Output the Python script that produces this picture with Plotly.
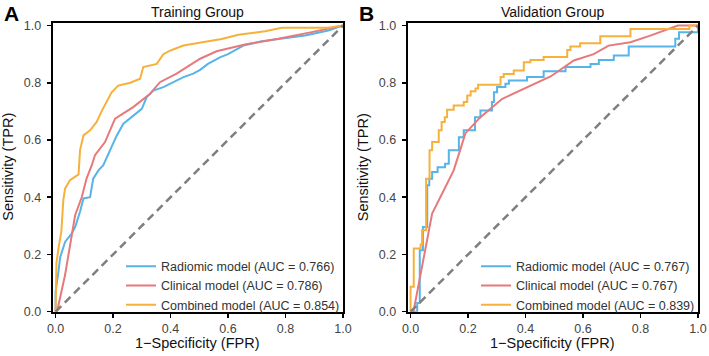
import plotly.graph_objects as go

# ---------------- data ----------------
tick_vals = [0.0, 0.2, 0.4, 0.6, 0.8, 1.0]
tick_text = ["0.0", "0.2", "0.4", "0.6", "0.8", "1.0"]

panel_titles = ["Training Group", "Validation Group"]
panel_letters = ["A", "B"]
model_names = ["Radiomic model", "Clinical model", "Combined model"]
auc_train = [0.766, 0.786, 0.854]
auc_valid = [0.767, 0.767, 0.839]

# Training group ROC curves
train_rad_fpr = [0, 0.0, 0.01, 0.016, 0.033, 0.056, 0.068, 0.085, 0.097, 0.12, 0.131, 0.149, 0.166,
                 0.184, 0.213, 0.236, 0.27, 0.30, 0.317, 0.34, 0.375, 0.41, 0.445, 0.479, 0.503, 0.53,
                 0.572, 0.60, 0.653, 0.717, 0.787, 0.868, 0.949, 1.0]
train_rad_tpr = [0, 0.07, 0.14, 0.19, 0.244, 0.273, 0.296, 0.349, 0.396, 0.40, 0.465, 0.494, 0.512,
                 0.552, 0.616, 0.657, 0.686, 0.709, 0.75, 0.773, 0.785, 0.802, 0.82, 0.832, 0.845, 0.866,
                 0.889, 0.90, 0.93, 0.945, 0.954, 0.965, 0.983, 1.0]

train_cli_fpr = [0, 0.005, 0.033, 0.05, 0.068, 0.091, 0.108, 0.126, 0.137, 0.172, 0.207, 0.27, 0.329,
                 0.363, 0.421, 0.503, 0.56, 0.659, 0.775, 0.891, 1.0]
train_cli_tpr = [0, 0.0, 0.128, 0.233, 0.337, 0.40, 0.466, 0.512, 0.547, 0.593, 0.675, 0.715, 0.762,
                 0.802, 0.832, 0.884, 0.91, 0.934, 0.954, 0.977, 1.0]

train_com_fpr = [0, 0.003, 0.01, 0.02, 0.027, 0.033, 0.05, 0.08, 0.085, 0.097, 0.12, 0.143, 0.16,
                 0.178, 0.195, 0.218, 0.26, 0.294, 0.305, 0.352, 0.375, 0.40, 0.445, 0.50, 0.53, 0.578,
                 0.636, 0.729, 0.787, 0.949, 1.0]
train_com_tpr = [0, 0.17, 0.22, 0.28, 0.39, 0.43, 0.46, 0.48, 0.564, 0.616, 0.634, 0.663, 0.70,
                 0.733, 0.767, 0.79, 0.80, 0.814, 0.855, 0.866, 0.90, 0.913, 0.93, 0.94, 0.945, 0.953,
                 0.968, 0.98, 0.992, 0.992, 1.0]

# Validation group ROC curves (step curves: points are tops of vertical jumps)
valid_rad_fpr = [0, 0.023, 0.032, 0.043, 0.058, 0.065, 0.075, 0.094, 0.12, 0.133, 0.168, 0.185, 0.224,
                 0.243, 0.283, 0.29, 0.301, 0.33, 0.342, 0.405, 0.463, 0.539, 0.626, 0.655, 0.707,
                 0.759, 0.921, 0.934, 1.0]
valid_rad_tpr = [0, 0.03, 0.215, 0.296, 0.442, 0.465, 0.488, 0.505, 0.517, 0.564, 0.61, 0.634, 0.68,
                 0.703, 0.733, 0.767, 0.785, 0.797, 0.808, 0.82, 0.84, 0.855, 0.866, 0.88, 0.895,
                 0.927, 0.954, 0.977, 1.0]

valid_cli_fpr = [0, 0.01, 0.075, 0.15, 0.174, 0.191, 0.243, 0.29, 0.319, 0.487, 0.568, 0.637, 0.689,
                 0.765, 0.834, 0.93, 1.0]
valid_cli_tpr = [0, 0.0, 0.343, 0.494, 0.57, 0.624, 0.68, 0.72, 0.744, 0.822, 0.878, 0.90, 0.93,
                 0.942, 0.965, 1.0, 1.0]

valid_com_fpr = [0, 0.0, 0.011, 0.035, 0.04, 0.054, 0.066, 0.075, 0.098, 0.108, 0.119, 0.127, 0.15,
                 0.185, 0.197, 0.209, 0.226, 0.235, 0.313, 0.324, 0.359, 0.394, 0.417, 0.463, 0.545,
                 0.556, 0.59, 0.66, 0.765, 0.97, 1.0]
valid_com_tpr = [0, 0.087, 0.221, 0.235, 0.285, 0.465, 0.564, 0.593, 0.634, 0.663, 0.68, 0.706, 0.721,
                 0.733, 0.756, 0.77, 0.78, 0.793, 0.82, 0.831, 0.843, 0.872, 0.88, 0.89, 0.915,
                 0.927, 0.938, 0.963, 0.988, 1.0, 1.0]

chance = [0, 1]

# ---------------- styling ----------------
colors = ["#56B4E9", "#E8797B", "#F6B13C"]
FONT = "Liberation Sans, Arial, Helvetica, sans-serif"
W, H = 709, 356

fig = go.Figure()

panels = [
    dict(xa="x", ya="y", leg="legend",
         curves=[(train_rad_fpr, train_rad_tpr, "linear"),
                 (train_cli_fpr, train_cli_tpr, "linear"),
                 (train_com_fpr, train_com_tpr, "linear")],
         aucs=auc_train),
    dict(xa="x2", ya="y2", leg="legend2",
         curves=[(valid_rad_fpr, valid_rad_tpr, "hv"),
                 (valid_cli_fpr, valid_cli_tpr, "linear"),
                 (valid_com_fpr, valid_com_tpr, "hv")],
         aucs=auc_valid),
]

for p in panels:
    for i, (fx, ty, shape) in enumerate(p["curves"]):
        fig.add_trace(go.Scatter(
            x=fx, y=ty, mode="lines", xaxis=p["xa"], yaxis=p["ya"],
            line=dict(color=colors[i], width=2, shape=shape),
            name=f"{model_names[i]} (AUC = {p['aucs'][i]:.3f})",
            legend=p["leg"], cliponaxis=False,
        ))
    fig.add_trace(go.Scatter(
        x=chance, y=chance, mode="lines", xaxis=p["xa"], yaxis=p["ya"],
        line=dict(color="#7F7F7F", width=2.5, dash="8px,5px"),
        showlegend=False, hoverinfo="skip",
    ))

# axis geometry (pixels)
y_top, y_bot = 22.7, 311.7
xA = (52.7, 343.0)
xB = (407.7, 698.0)
ydom = [(H - y_bot) / H, (H - y_top) / H]

axis_common = dict(
    showline=True, mirror=True, linecolor="black", linewidth=2,
    ticks="outside", ticklen=4, tickwidth=1.5, tickcolor="black",
    tickvals=tick_vals, ticktext=tick_text,
    tickfont=dict(family=FONT, size=12.5, color="#444444"),
    showgrid=False, zeroline=False, fixedrange=True, automargin=False,
)

fig.update_layout(
    width=W, height=H,
    margin=dict(l=0, r=0, t=0, b=0, autoexpand=False),
    paper_bgcolor="white", plot_bgcolor="white",
    font=dict(family=FONT, color="#222222"),
    xaxis=dict(domain=[xA[0] / W, xA[1] / W], range=[-0.01, 1.0], anchor="y",
               ticklabelstandoff=0, **axis_common),
    yaxis=dict(domain=ydom, range=[0.0, 1.01], anchor="x", ticklabelstandoff=3, **axis_common),
    xaxis2=dict(domain=[xB[0] / W, xB[1] / W], range=[-0.01, 1.0], anchor="y2",
                ticklabelstandoff=0, **axis_common),
    yaxis2=dict(domain=ydom, range=[0.0, 1.01], anchor="x2", ticklabelstandoff=3, **axis_common),
    legend=dict(x=345 / W, y=(H - 285.7) / H, xanchor="right", yanchor="middle",
                bgcolor="rgba(255,255,255,0)", borderwidth=0, tracegroupgap=0,
                font=dict(family=FONT, size=12.5, color="#333333")),
    legend2=dict(x=700 / W, y=(H - 285.7) / H, xanchor="right", yanchor="middle",
                 bgcolor="rgba(255,255,255,0)", borderwidth=0, tracegroupgap=0,
                 font=dict(family=FONT, size=12.5, color="#333333")),
    showlegend=True,
)

ann = []
centers = [(xA[0] + xA[1]) / 2, (xB[0] + xB[1]) / 2]
letter_x = [2, 357]
ytitle_x = [8.5, 363]
for k in range(2):
    ann.append(dict(text=f"<b>{panel_letters[k]}</b>", x=letter_x[k] / W, y=(H - 13) / H,
                    xref="paper", yref="paper", xanchor="left", yanchor="middle",
                    showarrow=False, font=dict(family=FONT, size=21, color="black")))
    ann.append(dict(text=panel_titles[k], x=centers[k] / W, y=(H - 11.5) / H,
                    xref="paper", yref="paper", xanchor="center", yanchor="middle",
                    showarrow=False, font=dict(family=FONT, size=14, color="#111111")))
    ann.append(dict(text="1\u2212Specificity (FPR)", x=centers[k] / W, y=(H - 342.5) / H,
                    xref="paper", yref="paper", xanchor="center", yanchor="middle",
                    showarrow=False, font=dict(family=FONT, size=14.5, color="#111111")))
    ann.append(dict(text="Sensitivity (TPR)", x=ytitle_x[k] / W,
                    y=(H - (y_top + y_bot) / 2) / H, textangle=-90,
                    xref="paper", yref="paper", xanchor="center", yanchor="middle",
                    showarrow=False, font=dict(family=FONT, size=14.5, color="#111111")))
fig.update_layout(annotations=ann)

fig.write_html(
    "out.html",
    config={"displayModeBar": False, "staticPlot": True},
    post_script="document.body.style.margin='0px';document.body.style.overflow='hidden';",
)
